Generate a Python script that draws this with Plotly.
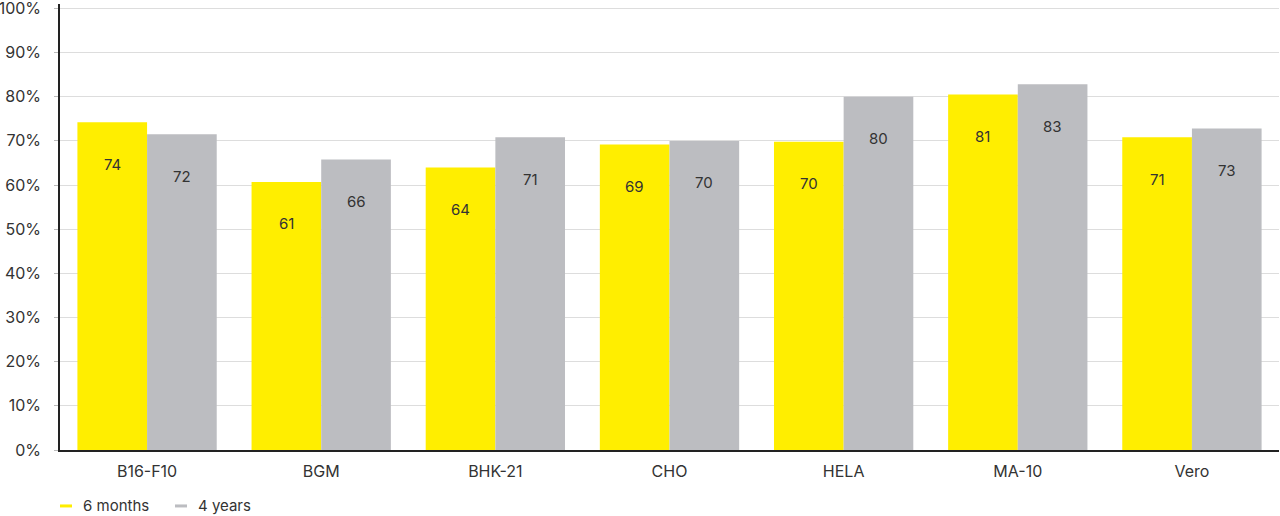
import plotly.graph_objects as go

categories = ["B16-F10", "BGM", "BHK-21", "CHO", "HELA", "MA-10", "Vero"]
six_months = [74.2, 60.7, 64.0, 69.2, 69.8, 80.5, 70.8]
four_years = [71.5, 65.8, 70.8, 70.0, 80.0, 82.8, 72.8]
six_months_labels = ["74", "61", "64", "69", "70", "81", "71"]
four_years_labels = ["72", "66", "71", "70", "80", "83", "73"]
series_names = ["6 months", "4 years"]
y_ticks = [0, 10, 20, 30, 40, 50, 60, 70, 80, 90, 100]
y_tick_labels = [f"{v}%" for v in y_ticks]

YELLOW = "#FFEE00"
GRAY = "#BCBDC1"
FONT = "Inter"
TXT = "#333333"

# plot area: y=100 at 8px, y=0 at 450px
Y_MAX = 101
plot_h = 442 * Y_MAX / 100
top = 450 - plot_h

fig = go.Figure()
fig.add_trace(go.Bar(x=categories, y=six_months, name=series_names[0],
                     marker=dict(color=YELLOW, line=dict(width=0)), showlegend=False))
fig.add_trace(go.Bar(x=categories, y=four_years, name=series_names[1],
                     marker=dict(color=GRAY, line=dict(width=0)), showlegend=False))

annotations = []
for i in range(len(categories)):
    for off, v, lab in ((-0.2, six_months[i], six_months_labels[i]),
                        (0.2, four_years[i], four_years_labels[i])):
        annotations.append(dict(x=i + off, y=v, xref="x", yref="y", text=lab,
                                showarrow=False, yshift=-42,
                                font=dict(family=FONT, size=15, color=TXT)))

# manual legend
shapes = []
legend_items = [(series_names[0], YELLOW, 60), (series_names[1], GRAY, 175)]
ly = -(506 - 450) / plot_h
for name, col, px in legend_items:
    shapes.append(dict(type="line", xref="paper", yref="paper",
                       x0=(px - 60) / 1219, x1=(px - 48) / 1219,
                       y0=ly, y1=ly, line=dict(color=col, width=3)))
    annotations.append(dict(x=(px - 39) / 1219, y=ly, xref="paper", yref="paper",
                            text=name, showarrow=False, xanchor="left", yanchor="middle",
                            font=dict(family=FONT, size=15, color=TXT)))

fig.update_layout(
    width=1280, height=516,
    margin=dict(l=60, r=1, t=top, b=66, autoexpand=False),
    paper_bgcolor="white", plot_bgcolor="white",
    barmode="group", bargap=0.2, bargroupgap=0,
    font=dict(family=FONT, size=16, color=TXT),
    xaxis=dict(showline=True, linecolor="#222222", linewidth=1.5, ticks="",
               ticklabelstandoff=6, automargin=False,
               tickfont=dict(family=FONT, size=16, color=TXT), showgrid=False),
    yaxis=dict(range=[0, Y_MAX], tickvals=y_ticks, ticktext=y_tick_labels,
               showline=True, linecolor="#222222", linewidth=1.5,
               gridcolor="#DDDDDD", gridwidth=1, ticks="outside", ticklen=4,
               tickcolor="#BBBBBB", tickwidth=1, ticklabelstandoff=10,
               ticklabeloverflow="allow", automargin=False,
               tickfont=dict(family=FONT, size=16, color=TXT), zeroline=False),
    annotations=annotations, shapes=shapes, showlegend=False,
)

fig.write_html("out.html", config={"displayModeBar": False},
               post_script="document.body.style.margin='0';document.body.style.overflow='hidden';")
